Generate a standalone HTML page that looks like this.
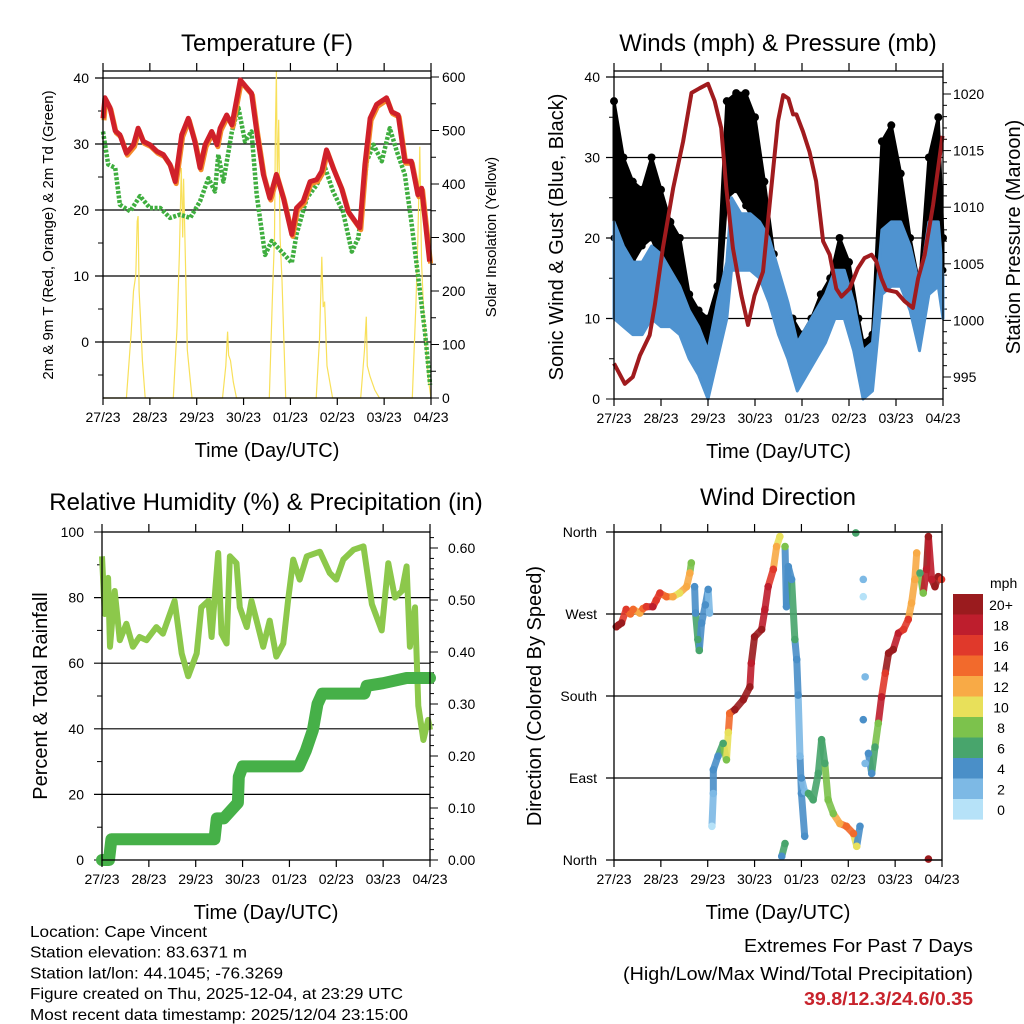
<!DOCTYPE html>
<html><head><meta charset="utf-8">
<style>
html,body{margin:0;padding:0;background:#fff;}
svg{display:block;font-family:"Liberation Sans",Arial,sans-serif;}
</style></head>
<body>
<svg id="chart" width="1024" height="1024" viewBox="0 0 1024 1024" xmlns="http://www.w3.org/2000/svg"></svg>
<script>
// ---------- data ----------
const dayLabels = ['27/23','28/23','29/23','30/23','01/23','02/23','03/23','04/23'];

const tempT = [0,0.04,0.15,0.26,0.36,0.5,0.65,0.75,0.86,1.0,1.15,1.29,1.43,1.54,1.68,1.82,1.96,2.07,2.18,2.32,2.43,2.5,2.64,2.75,2.93,3.07,3.17,3.28,3.42,3.56,3.7,3.85,4.03,4.13,4.27,4.42,4.56,4.67,4.77,4.91,5.09,5.23,5.38,5.48,5.59,5.7,5.84,6.05,6.16,6.3,6.44,6.58,6.72,6.8,6.97];
const tempV = [33.9,37,35.5,32,31.4,28.6,29.9,32.4,30.4,29.9,28.9,28.4,26.9,24.3,31.4,33.9,30.4,26.4,29.9,31.9,29.9,32.4,34.4,32.9,39.7,38.5,37.7,31.9,25.4,21.8,25.4,21.8,16.3,20.3,21.3,24.3,24.6,25.9,29.1,26.4,23.3,19.8,18.3,17.3,26.9,33.9,36,37,34.9,34.4,27.4,27.4,22.3,23.3,12.2];

const dewT = [0,0.11,0.26,0.36,0.58,0.79,1.0,1.22,1.43,1.64,1.86,2.07,2.25,2.39,2.46,2.57,2.75,2.89,3.03,3.17,3.28,3.46,3.6,3.81,4.03,4.13,4.35,4.56,4.74,4.91,5.12,5.31,5.45,5.63,5.77,5.95,6.12,6.27,6.44,6.58,6.73,6.87,6.98];
const dewV = [31.9,26.9,26.4,20.8,19.8,22.1,20.3,20.3,18.8,19.3,18.8,21.3,24.8,22.8,28.4,24.3,31.9,35.5,30.4,31.9,22.3,13.2,15.3,13.7,12,16.3,21.8,23.8,26.4,22.8,19.8,13.7,15.8,27.4,29.9,27.4,32.4,28.9,25.4,18.3,9.7,1.6,-6.5];

const solarT = [0,0.5,0.6,0.65,0.7,0.73,0.75,0.77,0.8,0.84,0.9, 1.5,1.58,1.63,1.67,1.7,1.72,1.76,1.8,1.9, 2.55,2.62,2.66,2.68,2.72,2.78,2.85, 3.55,3.62,3.66,3.68,3.7,3.72,3.75,3.78,3.82,3.9, 4.55,4.62,4.67,4.7,4.73,4.78,4.9, 5.5,5.58,5.62,5.64,5.7,5.8,5.9, 6.6,6.68,6.72,6.76,6.8,6.85,6.9,6.95,7];
const solarV = [0,0,120,200,230,330,340,200,150,70,0, 0,130,270,430,300,410,250,90,0, 0,60,124,80,70,30,0, 0,200,300,500,611,400,520,300,220,0, 0,110,264,170,180,60,0, 0,90,152,60,40,15,0, 0,180,300,470,250,150,90,30,0];

const windT  = [0,0.2,0.4,0.6,0.8,1.0,1.2,1.4,1.6,1.8,2.0,2.2,2.4,2.5,2.7,2.9,3.1,3.3,3.5,3.7,3.9,4.1,4.3,4.5,4.7,4.9,5.1,5.3,5.5,5.7,5.9,6.1,6.3,6.5,6.7,6.9,7.0];
const windHi = [22,19,17,17,19,18,16,14,11,9,6,12,17,25,23,23,22,20,16,12,7,9,11,13,16,16,12,6,7,21,22,22,19,14,22,22,15];
const windLo = [10,9,8,8,10,9,9,8,5,3,0,5,10,16,16,16,15,12,8,5,1,3,5,7,10,10,6,0,1,13,14,14,11,6,13,14,10];

const gustT  = [0,0.2,0.4,0.6,0.8,1.0,1.2,1.4,1.6,1.8,2.0,2.2,2.4,2.6,2.8,3.0,3.2,3.4,3.6,3.8,4.0,4.2,4.4,4.6,4.8,5.0,5.2,5.3,5.5,5.7,5.9,6.1,6.3,6.5,6.7,6.9,7.0];
const gustLo = [20,18,17,19,20,17,15,12,9,7,5,9,25,26,24,22,20,12,9,6,5,7,9,11,14,12,6,4,5,20,22,18,14,10,18,22,16];
const gustHi = [37,30,27,26,30,26,22,20,13,11,10,14,37,38,38,35,27,18,12,10,8,10,13,15,20,17,10,7,8,32,34,28,20,14,30,35,20];

const presT = [0,0.23,0.4,0.55,0.76,0.87,1.04,1.26,1.47,1.65,1.82,2.0,2.14,2.28,2.39,2.53,2.71,2.85,2.99,3.17,3.31,3.49,3.6,3.71,3.81,3.88,4.02,4.16,4.3,4.45,4.59,4.73,4.84,5.01,5.19,5.33,5.48,5.58,5.69,5.79,6.01,6.18,6.36,6.47,6.61,6.79,6.99];
const presV = [996.2,994.4,995,996.9,998.7,1001.4,1006.4,1011.7,1015.8,1020.1,1020.5,1020.9,1019.4,1017,1011.7,1006.4,1002.2,999.6,1002.2,1004.3,1010.2,1017.6,1019.9,1019.6,1018.2,1018.2,1016.7,1014.9,1012.3,1007,1005.8,1002.8,1002.1,1002.8,1004.6,1005.5,1005.8,1005.2,1003.7,1002.7,1002.5,1001.7,1001.1,1003.7,1005.8,1010.2,1016.3];

const rhT = [0,0.06,0.13,0.17,0.27,0.38,0.52,0.66,0.8,0.95,1.16,1.3,1.45,1.55,1.7,1.84,2.02,2.12,2.27,2.34,2.48,2.55,2.66,2.73,2.87,2.94,3.09,3.19,3.3,3.44,3.58,3.72,3.87,3.97,4.08,4.22,4.37,4.65,4.86,5.0,5.15,5.37,5.58,5.76,5.97,6.11,6.25,6.4,6.5,6.57,6.68,6.75,6.86,6.96,7.0];
const rhV = [92.6,75,86,65,82,67,72,65,68,67,71,69,75,79,63,56,63,77,79,68,93.6,69,66,92.6,90.5,77,71,79,73,65,73,62,66,79,91.6,85.5,92.6,94,87.5,85.5,91.6,94.6,95.6,78,70,90.5,80,82,89.5,65,77,47,36.6,42.7,39.7];

const precipT = [0,0.15,0.2,2.4,2.45,2.6,2.8,2.9,2.92,3.0,4.2,4.35,4.5,4.6,4.7,5.6,5.65,6.0,6.5,7.0];
const precipV = [0,0,0.04,0.04,0.08,0.08,0.10,0.11,0.16,0.18,0.18,0.21,0.25,0.30,0.32,0.32,0.335,0.34,0.35,0.35];

// wind direction (days, degrees, speed mph, group)
const dirT = [0.05,0.1,0.16,0.26,0.35,0.41,0.55,0.62,0.69,0.83,0.9,0.98,1.12,1.26,1.4,1.55,1.62,1.65,
  1.72,1.74,1.79,1.82,1.87,1.95,2.01,2.04,
  2.09,2.12,2.12,2.22,2.33,2.4,2.44,2.47,2.58,2.76,2.9,2.93,3.0,3.15,3.22,3.29,3.4,3.47,3.54,
  3.65,3.68,3.72,3.79,3.86,3.9,3.93,3.97,4.0,4.07,
  3.58,3.65,
  4.0,4.07,4.15,4.25,4.36,4.43,4.5,4.57,4.68,4.82,4.96,5.11,5.18,5.25,
  5.16,5.32,5.32,5.36,5.32,5.36,
  5.43,5.5,5.57,5.64,5.71,5.79,5.86,5.96,6.07,6.18,6.28,6.35,6.42,6.46,
  6.53,6.6,6.67,6.71,6.78,6.85,6.92,6.99,
  6.71];
const dirV = [256,258,260,275,270,275,271,276,278,278,285,293,289,289,293,300,315,326,
  300,271,242,230,260,280,297,271,
  37,73,99,114,128,110,140,161,165,176,190,216,245,253,275,300,319,344,355,
  344,278,322,308,242,220,181,114,73,26,
  4,18,
  90,75,73,66,95,132,106,66,51,40,37,29,15,37,
  359,308,289,201,154,106,
  117,95,124,150,179,205,227,231,249,253,264,282,308,337,
  315,293,319,355,308,300,311,308,
  1];
const dirS = [20,20,20,16,14,14,12,14,16,18,16,16,14,12,10,12,12,8,
  4,4,6,6,4,4,4,2,
  0,2,4,4,6,8,10,14,20,20,20,18,20,20,18,18,16,12,10,
  8,4,4,4,6,4,4,2,4,4,
  4,6,
  4,2,6,6,6,6,6,8,8,12,14,14,10,4,
  6,2,0,2,4,2,
  4,4,6,8,18,16,20,20,18,16,16,12,12,12,
  6,8,18,20,18,20,20,16,
  20];
const dirG = [1,1,1,1,1,1,1,1,1,1,1,1,1,1,1,1,1,1,
  2,2,2,2,2,2,2,2,
  3,3,3,3,3,3,3,3,3,3,3,3,3,3,3,3,3,3,3,
  4,4,4,4,4,4,4,4,4,4,
  5,5,
  6,6,6,6,6,6,6,6,6,6,6,6,6,6,
  0,0,0,0,0,0,
  9,9,9,9,9,9,9,9,9,9,9,9,9,9,
  10,10,10,10,10,10,10,10,
  0];

const speedLabels = ['20+','18','16','14','12','10','8','6','4','2','0'];
const speedColors = ['#9a1b1e','#be1e2d','#e0392b','#f26a2c','#f8aa46','#e8e05a','#7cc24c','#48a56c','#4a8fc8','#7db9e5','#b6e2f8'];

// ---------- helpers ----------
const NS = 'http://www.w3.org/2000/svg';
const svg = document.getElementById('chart');
function mk(tag, attrs, parent){
  const e = document.createElementNS(NS, tag);
  for (const k in attrs) e.setAttribute(k, attrs[k]);
  (parent||svg).appendChild(e);
  return e;
}
function lin(d0,d1,r0,r1){ return v => r0 + (v-d0)*(r1-r0)/(d1-d0); }
function txt(x,y,s,size,anchor,extra,parent){
  const t = mk('text', Object.assign({x:x,y:y,'font-size':size,'text-anchor':anchor||'start',fill:'#000'}, extra||{}), parent);
  t.textContent = s;
  return t;
}
function colorFor(s){ let i = Math.round((20 - Math.min(20,s))/2); return speedColors[Math.max(0,Math.min(10,i))]; }

function frame(g, L, R, T, B, xs, name){
  const box = mk('rect',{x:L,y:T,width:R-L,height:B-T,fill:'none',stroke:'#000','stroke-width':1.3}, g);
  
  
  for (let d=0; d<dayLabels.length; d++){
    const x = xs(d);
    const tk = mk('path',{d:`M${x},${B}v7M${x},${T}v-8`,stroke:'#000','stroke-width':1.2}, g);
    
    
    const lb = txt(x, B+24, dayLabels[d], 14, 'middle', null, g);
    
    
  }
  const xt = txt((L+R)/2, B+59, 'Time (Day/UTC)', 20, 'middle', null, g);
  
  
}
function hgrid(g,L,R,y,ext){
  const l = mk('line',{x1:L-(ext||0),x2:R,y1:y,y2:y,stroke:'#000','stroke-width':1.2}, g);
  
  
}
function ytick(g,x,y,len){
  const l = mk('line',{x1:x,x2:x+len,y1:y,y2:y,stroke:'#000','stroke-width':1}, g);
  
  
}
function vtitle(g,x,y,s,size,name){
  const t = txt(0,0,s,size,'middle',{transform:`translate(${x},${y}) rotate(-90)`}, g);
  
  
}
function linePath(ts, vs, xs, ys){
  return ts.map((t,i)=>(i?'L':'M')+xs(t).toFixed(1)+','+ys(vs[i]).toFixed(1)).join('');
}
function title(x,y,s,name){
  const t = txt(x,y,s,24,'middle');
  
  
}

// ---------- Panel 1: Temperature ----------
(function(){
  const L=103,R=431,T=71,B=398;
  const g = mk('g',{});
  
  
  const xs = lin(0,7,L,R), ys = lin(0,40,342,78), ss = lin(0,600,398,77);
  title(267,51,'Temperature (F)','temperature-title');
  [40,30,20,10,0].forEach(v=>{ hgrid(g,L,R,ys(v),8); const t=txt(L-14,ys(v)+5,String(v),14,'end',null,g);   });
  [35,25,15,5,-5].forEach(v=>ytick(g,L-5,ys(v),5));
  [0,100,200,300,400,500,600].forEach(v=>{ ytick(g,R,ss(v),8); const t=txt(R+11,ss(v)+5,String(v),14,'start',null,g);   });
  [50,150,250,350,450,550].forEach(v=>ytick(g,R,ss(v),5));
  const sol = mk('path',{d:linePath(solarT,solarV,xs,ss),fill:'none',stroke:'#f8e05a','stroke-width':1.2}, g);
  
  
  const dew = mk('path',{d:linePath(dewT,dewV,xs,ys),fill:'none',stroke:'#3fae3f','stroke-width':4.5,'stroke-dasharray':'3 1.6','stroke-linejoin':'round'}, g);
  
  
  const org = mk('path',{d:linePath(tempT,tempV,xs,ys),fill:'none',stroke:'#f58a2a','stroke-width':5,'stroke-linejoin':'round',transform:'translate(1,2)'}, g);
  
  
  const red = mk('path',{d:linePath(tempT,tempV,xs,ys),fill:'none',stroke:'#d0202a','stroke-width':5,'stroke-linejoin':'round'}, g);
  
  
  frame(g,L,R,T,B,xs,'temperature');
  vtitle(g,53,235,'2m & 9m T (Red, Orange) & 2m Td (Green)',15,'temp-y-axis-title');
  vtitle(g,496,237,'Solar Insolation (Yellow)',15,'solar-y-axis-title');
})();

// ---------- Panel 2: Winds & Pressure ----------
(function(){
  const L=614,R=943,T=71,B=399;
  const g = mk('g',{});
  
  
  const xs = lin(0,7,L,R), ys = lin(0,40,399,77), ps = lin(995,1020,377,94);
  title(778,51,'Winds (mph) & Pressure (mb)','winds-title');
  [40,30,20,10].forEach(v=>hgrid(g,L,R,ys(v),8));
  [40,30,20,10,0].forEach(v=>{ ytick(g,L-8,ys(v),8); const t=txt(L-14,ys(v)+5,String(v),14,'end',null,g);   });
  [35,25,15,5].forEach(v=>ytick(g,L-5,ys(v),5));
  for (let p=994;p<=1021;p++) ytick(g,R,ps(p),p%5===0?8:4);
  [995,1000,1005,1010,1015,1020].forEach(v=>{ const t=txt(R+10,ps(v)+5,String(v),14,'start',null,g);   });
  const gd = gustT.map((t,i)=>(i?'L':'M')+xs(t).toFixed(1)+','+ys(gustHi[i]).toFixed(1)).join('') +
    gustT.slice().reverse().map((t,j)=>{const i=gustT.length-1-j; return 'L'+xs(t).toFixed(1)+','+ys(gustLo[i]).toFixed(1);}).join('')+'Z';
  const gb = mk('path',{d:gd,fill:'#000',stroke:'#000','stroke-width':3,'stroke-linejoin':'round'}, g);
  
  
  gustT.forEach((t,i)=>{
    const c = mk('circle',{cx:xs(t),cy:ys(gustHi[i]),r:4,fill:'#000'}, g);
    
    
    const c2 = mk('circle',{cx:xs(t),cy:ys(gustLo[i]),r:3.5,fill:'#000'}, g);
    
    
  });
  const wd = windT.map((t,i)=>(i?'L':'M')+xs(t).toFixed(1)+','+ys(windHi[i]).toFixed(1)).join('') +
    windT.slice().reverse().map((t,j)=>{const i=windT.length-1-j; return 'L'+xs(t).toFixed(1)+','+ys(windLo[i]).toFixed(1);}).join('')+'Z';
  const wb = mk('path',{d:wd,fill:'#4f93d0',stroke:'#4f93d0','stroke-width':3,'stroke-linejoin':'round'}, g);
  
  
  const pr = mk('path',{d:linePath(presT,presV,xs,ps),fill:'none',stroke:'#a01b1e','stroke-width':4,'stroke-linejoin':'round'}, g);
  
  
  frame(g,L,R,T,B,xs,'winds');
  vtitle(g,563,237,'Sonic Wind & Gust (Blue, Black)',20,'wind-y-axis-title');
  vtitle(g,1020,237,'Station Pressure (Maroon)',20,'pressure-y-axis-title');
})();

// ---------- Panel 3: RH & Precip ----------
(function(){
  const L=102,R=430,T=532,B=860;
  const g = mk('g',{});
  
  
  const xs = lin(0,7,L,R), ys = lin(0,100,860,532), pp = lin(0,0.6,860,548);
  title(266,510,'Relative Humidity (%) & Precipitation (in)','humidity-title');
  [80,60,40,20].forEach(v=>hgrid(g,L,R,ys(v),8));
  [100,0].forEach(v=>ytick(g,L-8,ys(v),8));
  [100,80,60,40,20,0].forEach(v=>{ const t=txt(L-18,ys(v)+5,String(v),14,'end',null,g);   });
  [90,70,50,30,10].forEach(v=>ytick(g,L-5,ys(v),5));
  for (let k=0;k<=31;k++){ const v=k*0.02; ytick(g,R,pp(v),k%5===0?8:4); }
  ['0.00','0.10','0.20','0.30','0.40','0.50','0.60'].forEach(s=>{ const t=txt(R+18,pp(parseFloat(s))+5,s,14,'start',null,g);   });
  const rh = mk('path',{d:linePath(rhT,rhV,xs,ys),fill:'none',stroke:'#8cc84b','stroke-width':6,'stroke-linejoin':'round'}, g);
  
  
  const pc = mk('path',{d:linePath(precipT,precipV,xs,pp),fill:'none',stroke:'#46b048','stroke-width':12,'stroke-linejoin':'round','stroke-linecap':'round'}, g);
  
  
  frame(g,L,R,T,B,xs,'humidity');
  vtitle(g,47,696,'Percent & Total Rainfall',20,'rh-y-axis-title');
})();

// ---------- Panel 4: Wind Direction ----------
(function(){
  const L=614,R=942,T=532,B=860;
  const g = mk('g',{});
  
  
  const xs = lin(0,7,L,R), ys = lin(0,360,860,532);
  title(778,505,'Wind Direction','wind-direction-title');
  const names = ['North','East','South','West','North'];
  [0,90,180,270,360].forEach((v,i)=>{ hgrid(g,L,R,ys(v),8); const t=txt(L-17,ys(v)+5,names[i],14,'end',null,g);   });
  for (let i=1;i<dirT.length;i++){
    if (dirG[i]===0 || dirG[i]!==dirG[i-1]) continue;
    const s = mk('line',{x1:xs(dirT[i-1]),y1:ys(dirV[i-1]),x2:xs(dirT[i]),y2:ys(dirV[i]),stroke:colorFor(dirS[i]),'stroke-width':7,'stroke-linecap':'round',opacity:0.9}, g);
    
    
  }
  dirT.forEach((t,i)=>{
    const c = mk('circle',{cx:xs(t),cy:ys(dirV[i]),r:3.8,fill:colorFor(dirS[i])}, g);
    
    
  });
  frame(g,L,R,T,B,xs,'direction');
  vtitle(g,541,696,'Direction (Colored By Speed)',20,'direction-y-axis-title');
  const lg = mk('g',{});
  
  
  const mt = txt(990,588,'mph',14,'start',null,lg);
  
  
  speedLabels.forEach((s,i)=>{
    const y0 = 594 + i*20.5;
    const r = mk('rect',{x:953,y:y0,width:30,height:20.6,fill:speedColors[i]}, lg);
    
    
    const t = txt(1001,y0+16,s,14,'middle',null,lg);
    
    
  });
})();

// ---------- footer ----------
(function(){
  const g = mk('g',{});
  
  
  const lines = [['Location: Cape Vincent',177],['Station elevation: 83.6371 m',217],['Station lat/lon: 44.1045; -76.3269',253],['Figure created on Thu, 2025-12-04, at 23:29 UTC',373],['Most recent data timestamp: 2025/12/04 23:15:00',378]];
  lines.forEach((l,i)=>{
    const t = txt(30,937+i*20.7,l[0],16,'start',{textLength:l[1],lengthAdjust:'spacingAndGlyphs'},g);
    
    
  });
  const a = txt(973,952,'Extremes For Past 7 Days',18,'end',{textLength:229,lengthAdjust:'spacingAndGlyphs'},g);
  
  
  const b = txt(973,980,'(High/Low/Max Wind/Total Precipitation)',18,'end',{textLength:350,lengthAdjust:'spacingAndGlyphs'},g);
  
  
  const c = txt(973,1005,'39.8/12.3/24.6/0.35',18,'end',{fill:'#c8232c','font-weight':'bold',textLength:169,lengthAdjust:'spacingAndGlyphs'},g);
  
  
})();
</script>
</body></html>
